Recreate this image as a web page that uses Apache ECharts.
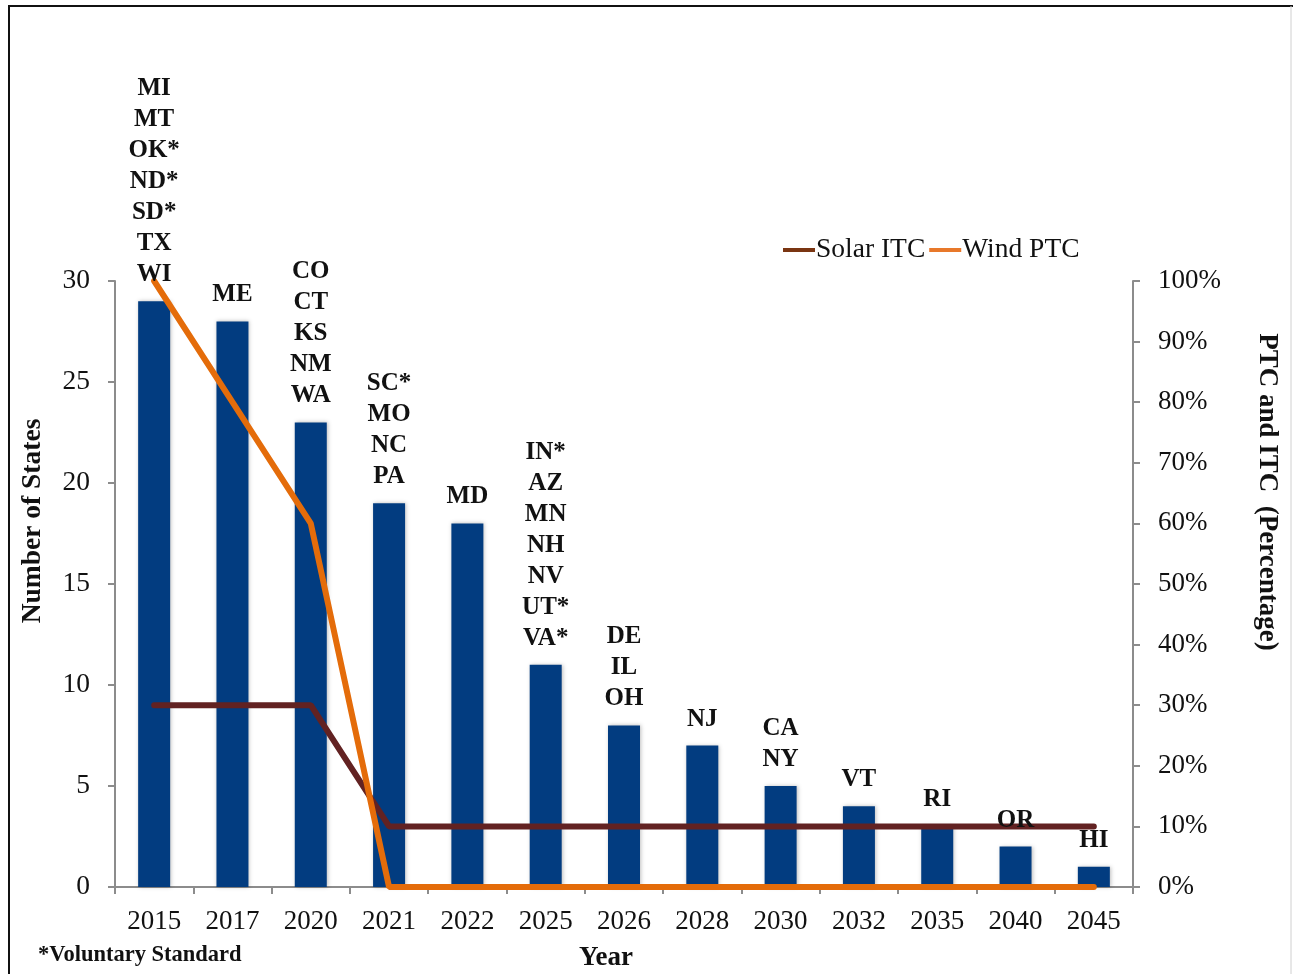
<!DOCTYPE html>
<html>
<head>
<meta charset="utf-8">
<script src="https://cdn.jsdelivr.net/npm/echarts@6/dist/echarts.min.js"></script>
<style>
  html, body { margin: 0; padding: 0; background: #fff; }
  #chart { width: 1293px; height: 974px; }
</style>
</head>
<body>
<div id="chart"></div>
<script>
const years = ["2015", "2017", "2020", "2021", "2022", "2025", "2026", "2028", "2030", "2032", "2035", "2040", "2045"];
const stateCounts = [29, 28, 23, 19, 18, 11, 8, 7, 5, 4, 3, 2, 1];
const stateLabels = [
  "MI\nMT\nOK*\nND*\nSD*\nTX\nWI",
  "ME",
  "CO\nCT\nKS\nNM\nWA",
  "SC*\nMO\nNC\nPA",
  "MD",
  "IN*\nAZ\nMN\nNH\nNV\nUT*\nVA*",
  "DE\nIL\nOH",
  "NJ",
  "CA\nNY",
  "VT",
  "RI",
  "OR",
  "HI",
];
const solarItc = [30, 30, 30, 10, 10, 10, 10, 10, 10, 10, 10, 10, 10];
const windPtc = [100, 80, 60, 0, 0, 0, 0, 0, 0, 0, 0, 0, 0];

const serif = "'Liberation Serif', 'DejaVu Serif', serif";
const axisGray = "#8c8c8c";

const chart = echarts.init(document.getElementById("chart"));

chart.setOption({
  animation: false,
  textStyle: { fontFamily: serif },
  grid: { left: 115, right: 160, top: 281, bottom: 87 },
  legend: {
    left: 778,
    top: 231,
    itemGap: 4,
    itemWidth: 32,
    itemHeight: 4,
    icon: "rect",
    textStyle: { fontFamily: serif, fontSize: 27.5, color: "#111", padding: [0, 0, 0, -4] },
    data: ["Solar ITC", "Wind PTC"],
  },
  xAxis: {
    type: "category",
    data: years,
    axisLine: { lineStyle: { color: axisGray, width: 2 } },
    axisTick: { show: true, length: 7, lineStyle: { color: axisGray, width: 2 } },
    axisLabel: { fontFamily: serif, fontSize: 27, color: "#111", margin: 21 },
  },
  yAxis: [
    {
      type: "value",
      min: 0,
      max: 30,
      interval: 5,
      axisLine: { show: true, lineStyle: { color: axisGray, width: 2 } },
      axisTick: { show: true, length: 7, lineStyle: { color: axisGray, width: 2 } },
      axisLabel: { fontFamily: serif, fontSize: 27.5, color: "#111", margin: 25 },
      splitLine: { show: false },
    },
    {
      type: "value",
      min: 0,
      max: 100,
      interval: 10,
      position: "right",
      axisLine: { show: true, lineStyle: { color: axisGray, width: 2 } },
      axisTick: { show: true, length: 7, lineStyle: { color: axisGray, width: 2 } },
      axisLabel: { fontFamily: serif, fontSize: 27, color: "#111", margin: 25, formatter: "{value}%" },
      splitLine: { show: false },
    },
  ],
  series: [
    {
      name: "States",
      type: "bar",
      data: stateCounts,
      barWidth: 32,
      z: 2,
      itemStyle: {
        color: "#023c80",
        shadowColor: "rgba(0,0,0,0.25)",
        shadowBlur: 4,
        shadowOffsetX: 1,
      },
    },
    {
      name: "Solar ITC",
      type: "line",
      yAxisIndex: 1,
      data: solarItc,
      symbol: "none",
      z: 3,
      color: "#7a3512",
      lineStyle: { color: "#622222", width: 6, cap: "round" },
    },
    {
      name: "Wind PTC",
      type: "line",
      yAxisIndex: 1,
      data: windPtc,
      symbol: "none",
      z: 4,
      color: "#e8782a",
      lineStyle: { color: "#e46c0a", width: 6, cap: "round" },
    },
    {
      name: "labels",
      type: "bar",
      data: stateCounts,
      barWidth: 32,
      barGap: "-100%",
      z: 5,
      itemStyle: { color: "rgba(0,0,0,0)" },
      label: {
        show: true,
        position: "top",
        distance: 11,
        fontFamily: serif,
        fontSize: 25,
        fontWeight: "bold",
        lineHeight: 31,
        color: "#111",
        formatter: (p) => stateLabels[p.dataIndex],
      },
    },
  ],
  graphic: [
    {
      type: "rect",
      shape: { x: 9, y: 6, width: 1300, height: 1000 },
      style: { fill: "none", stroke: "#111", lineWidth: 2 },
      silent: true,
    },
    {
      type: "line",
      shape: { x1: 1291, y1: 6, x2: 1291, y2: 974 },
      style: { stroke: "#d0d0d0", lineWidth: 1 },
      silent: true,
    },
    {
      type: "text",
      x: 33,
      y: 521,
      rotation: Math.PI / 2,
      style: {
        text: "Number of States", fontFamily: serif, fontSize: 27.5, fontWeight: "bold",
        fill: "#111", align: "center", verticalAlign: "middle",
      },
    },
    {
      type: "text",
      x: 1267,
      y: 492,
      rotation: -Math.PI / 2,
      style: {
        text: "PTC and ITC  (Percentage)", fontFamily: serif, fontSize: 27, fontWeight: "bold",
        fill: "#111", align: "center", verticalAlign: "middle",
      },
    },
    {
      type: "text",
      x: 38,
      y: 955,
      style: {
        text: "*Voluntary Standard", fontFamily: serif, fontSize: 22.5, fontWeight: "bold",
        fill: "#111", verticalAlign: "middle",
      },
    },
    {
      type: "text",
      x: 606,
      y: 958,
      style: {
        text: "Year", fontFamily: serif, fontSize: 27, fontWeight: "bold",
        fill: "#111", align: "center", verticalAlign: "middle",
      },
    },
  ],
});
</script>
</body>
</html>
